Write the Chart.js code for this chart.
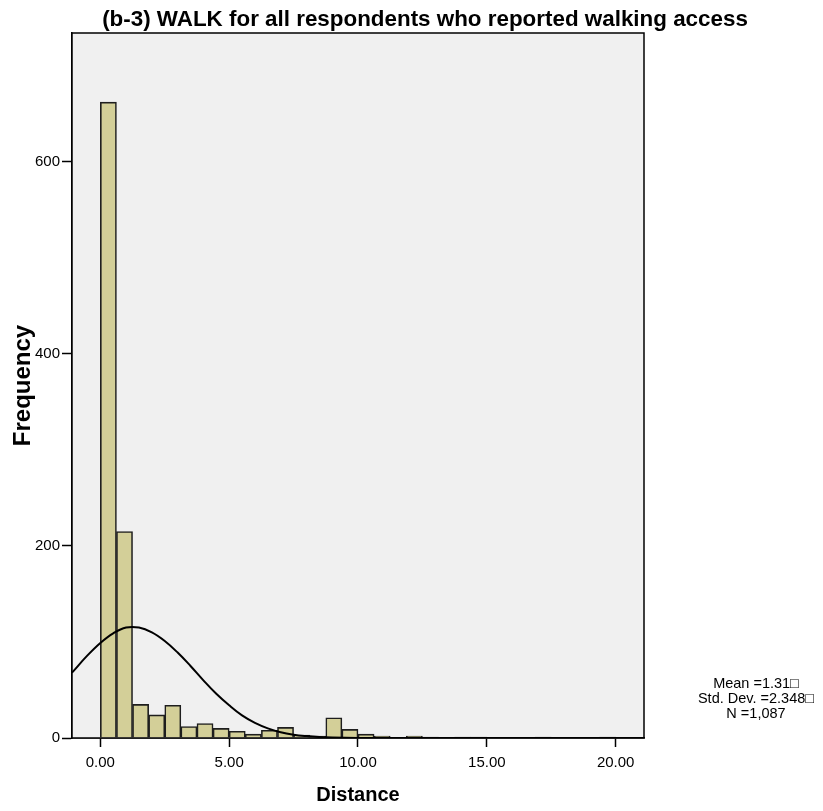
<!DOCTYPE html>
<html>
<head>
<meta charset="utf-8">
<title>WALK distance histogram</title>
<script src="https://cdn.jsdelivr.net/npm/chart.js@4"></script>
<style>
  body { margin: 0; background: #fff; }
  #wrap { width: 823px; height: 811px; }
</style>
</head>
<body>
<div id="wrap"><canvas id="histChart" width="823" height="811"></canvas></div>
<script>
/* -------------------- DATA -------------------- */
const chartTitle = "(b-3) WALK for all respondents who reported walking access";
const xTitle = "Distance";
const yTitle = "Frequency";

// lower edge of each histogram bin (distance)
const binStarts = [
  0, 0.625, 1.25, 1.875, 2.5, 3.125, 3.75, 4.375,
  5, 5.625, 6.25, 6.875, 7.5, 8.125, 8.75, 9.375,
  10, 10.625, 11.25, 11.875, 12.5, 13.125, 13.75, 14.375,
  15, 15.625, 16.25, 16.875, 17.5, 18.125, 18.75, 19.375
];
const binWidth = 0.625;
const frequencies = [
  662, 215, 35, 24, 34, 12, 15, 10,
  7, 4, 8, 11, 3, 2, 21, 9,
  4, 2, 0, 2, 1, 0, 1, 1,
  0, 0, 0, 1, 0, 0, 0, 1
];

// normal curve
const curveX = [-1.1, -0.5, 0, 0.5, 1, 1.5, 2, 2.5, 3, 3.5, 4, 4.5, 5, 5.5, 6, 6.5, 7, 7.5, 8, 8.5, 9, 10, 11, 21.1];
const curveY = [68, 86, 99, 109, 115, 115, 110, 101, 89, 75, 60, 46, 34, 23.5, 15.7, 10, 6, 3.5, 2, 1, 0.5, 0.1, 0, 0];

const xTicks = [0, 5, 10, 15, 20];
const yTicks = [0, 200, 400, 600];
const statLines = ["Mean =1.31\u25A1", "Std. Dev. =2.348\u25A1", "N =1,087"];

/* -------------------- PLUGINS -------------------- */
const FONT = "'Liberation Sans', Arial, sans-serif";

const plotFrame = {
  id: "plotFrame",
  beforeDatasetsDraw(chart) {
    const { ctx, chartArea: a } = chart;
    ctx.save();
    ctx.fillStyle = "#f0f0f0";
    ctx.fillRect(a.left, a.top, a.right - a.left, a.bottom - a.top);
    ctx.restore();
  },
  afterDatasetsDraw(chart) {
    const { ctx, chartArea: a } = chart;
    ctx.save();
    ctx.strokeStyle = "#000";
    ctx.lineWidth = 1.5;
    ctx.strokeRect(a.left, a.top, a.right - a.left, a.bottom - a.top);
    ctx.restore();
  }
};

const outerText = {
  id: "outerText",
  afterDraw(chart) {
    const ctx = chart.ctx;
    ctx.save();
    ctx.fillStyle = "#000";
    ctx.textAlign = "center";
    ctx.textBaseline = "alphabetic";
    ctx.font = "bold 22.4px " + FONT;
    ctx.fillText(chartTitle, 425, 26);
    ctx.font = "14.5px " + FONT;
    statLines.forEach((t, i) => ctx.fillText(t, 756, 688 + i * 15.2));
    ctx.restore();
  }
};

/* -------------------- CHART -------------------- */
const bars = binStarts.map((s, i) => ({ x: s + binWidth / 2, y: frequencies[i] }));
const curve = curveX.map((x, i) => ({ x: x, y: curveY[i] }));

new Chart(document.getElementById("histChart"), {
  type: "bar",
  data: {
    datasets: [
      {
        type: "line",
        data: curve,
        borderColor: "#000",
        borderWidth: 2,
        pointRadius: 0,
        tension: 0.4,
        fill: false,
        order: 1
      },
      {
        type: "bar",
        data: bars,
        backgroundColor: "#d3cf98",
        borderColor: "#1e1e1e",
        borderWidth: 1.6,
        barPercentage: 1,
        categoryPercentage: 1,
        order: 2
      }
    ]
  },
  options: {
    responsive: false,
    animation: false,
    layout: { padding: { left: 0, right: 179, top: 33, bottom: 0 } },
    plugins: { legend: { display: false }, tooltip: { enabled: false }, title: { display: false } },
    scales: {
      x: {
        type: "linear",
        offset: false,
        min: -1.1,
        max: 21.1,
        afterBuildTicks: s => { s.ticks = xTicks.map(v => ({ value: v })); },
        afterFit: s => { s.height = 73; },
        grid: { offset: false, drawOnChartArea: false, tickLength: 9, tickColor: "#000", tickWidth: 1.5 },
        border: { color: "#000", width: 1.5 },
        ticks: { color: "#000", padding: 7, font: { family: FONT, size: 15 }, callback: v => v.toFixed(2) },
        title: { display: true, text: xTitle, color: "#000", padding: { top: 0, bottom: 4 }, font: { family: FONT, size: 20, weight: "bold" } }
      },
      y: {
        min: 0,
        max: 734,
        afterBuildTicks: s => { s.ticks = yTicks.map(v => ({ value: v })); },
        afterFit: s => { s.width = 72; },
        grid: { drawOnChartArea: false, tickLength: 10, tickColor: "#000", tickWidth: 1.5 },
        border: { color: "#000", width: 1.5 },
        ticks: { color: "#000", padding: 2, font: { family: FONT, size: 15 }, callback: v => String(v) },
        title: { display: true, text: yTitle, color: "#000", padding: { top: 9, bottom: 0 }, font: { family: FONT, size: 24, weight: "bold" } }
      }
    }
  },
  plugins: [plotFrame, outerText]
});
</script>
</body>
</html>
